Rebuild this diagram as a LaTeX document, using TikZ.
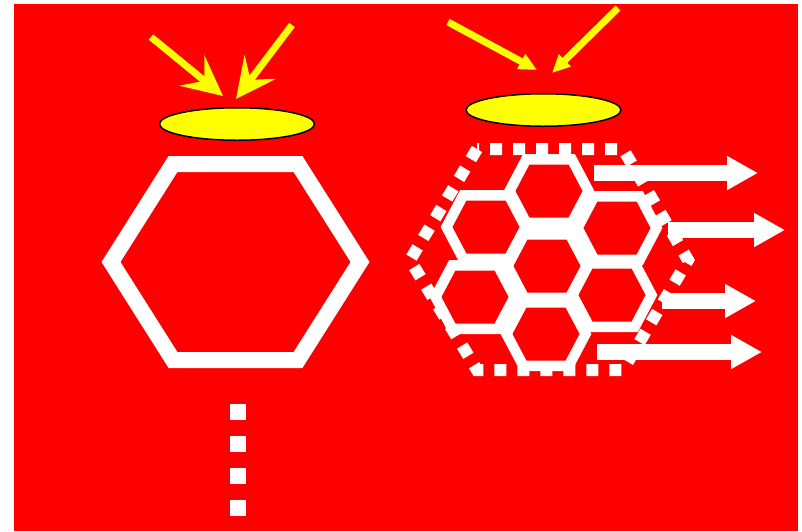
\documentclass[tikz,border=0pt]{standalone}
\usetikzlibrary{arrows.meta,shapes.geometric}
\definecolor{bgred}{RGB}{255,0,0}
\definecolor{lensyellow}{RGB}{255,255,0}
\begin{document}
\begin{tikzpicture}[x=1pt,y=-1pt,
  lens/.style={ellipse, draw=black, line width=1.5pt, fill=lensyellow,
    minimum width=155pt, minimum height=32.5pt, inner sep=0pt},
  ray/.style={draw=lensyellow, line width=7pt},
  bigray/.style={ray, -{Stealth[length=40pt,width=39pt,inset=16pt]}},
  smallray/.style={ray, -{Triangle[length=18pt,width=16pt]}},
  outarrow/.style={draw=white, line width=15.5pt, -{Triangle[length=31pt,width=32pt]}},
  whiteline/.style={draw=white, line width=16pt},
  cellwall/.style={draw=white, fill=white, line width=21pt},
  dotline/.style={draw=white, line width=16pt, dash pattern=on 16pt off 16pt},
  dashhex/.style={draw=white, line width=12pt, dash pattern=on 12pt off 11pt, dash phase=10pt},
]
\useasboundingbox (0,0) rectangle (802,531);
\fill[white] (0,0) rectangle (802,531);
\fill[bgred] (14,4) rectangle (798,531);

% left: single hexagon
\draw[whiteline] (173,164) -- (298,164) -- (360,262) -- (298,360) -- (173,360) -- (111,262) -- cycle;
\draw[dotline] (238,404) -- (238,516);

% lenses
\node[lens] (lensL) at (237,124) {};
\node[lens] (lensR) at (543.5,110) {};

% yellow rays
\coordinate (r1s) at (151,37);  \coordinate (r1e) at (223,96);
\coordinate (r2s) at (292,25);  \coordinate (r2e) at (236,99);
\coordinate (r3s) at (448,22);  \coordinate (r3e) at (537,70);
\coordinate (r4s) at (618,8);   \coordinate (r4e) at (552,73);
\draw[bigray] (r1s) -- (r1e);
\draw[bigray] (r2s) -- (r2e);
\draw[smallray] (r3s) -- (r3e);
\draw[smallray] (r4s) -- (r4e);

% right: dotted outline
\draw[dashhex] (477,149) -- (623,149) -- (688,260) -- (623,370) -- (477,370) -- (410,260) -- cycle;

% honeycomb
\fill[white] (549,191) -- (617,228) -- (612,295) -- (546,334) -- (475,297) -- (486,227) -- cycle;
\foreach \cx/\cy in {549/191, 486/227, 617/228, 547/266, 475/297, 612/295, 546/334}{
  \draw[cellwall] ({\cx-33.5},\cy) -- ++(14,-26.5) -- ++(39,0) -- ++(14,26.5) -- ++(-14,26.5) -- ++(-39,0) -- cycle;
}
\foreach \cx/\cy in {549/191, 486/227, 617/228, 547/266, 475/297, 612/295, 546/334}{
  \fill[bgred] ({\cx-33.5},\cy) -- ++(14,-26.5) -- ++(39,0) -- ++(14,26.5) -- ++(-14,26.5) -- ++(-39,0) -- cycle;
}

% outgoing white arrows
\coordinate (o1s) at (594,173); \coordinate (o1e) at (758,173);
\coordinate (o2s) at (668,230); \coordinate (o2e) at (785,230);
\coordinate (o3s) at (662,301); \coordinate (o3e) at (756,301);
\coordinate (o4s) at (597,352); \coordinate (o4e) at (762,352);
\draw[outarrow] (o1s) -- (o1e);
\draw[outarrow] (o2s) -- (o2e);
\draw[outarrow] (o3s) -- (o3e);
\draw[outarrow] (o4s) -- (o4e);
\end{tikzpicture}
\end{document}
